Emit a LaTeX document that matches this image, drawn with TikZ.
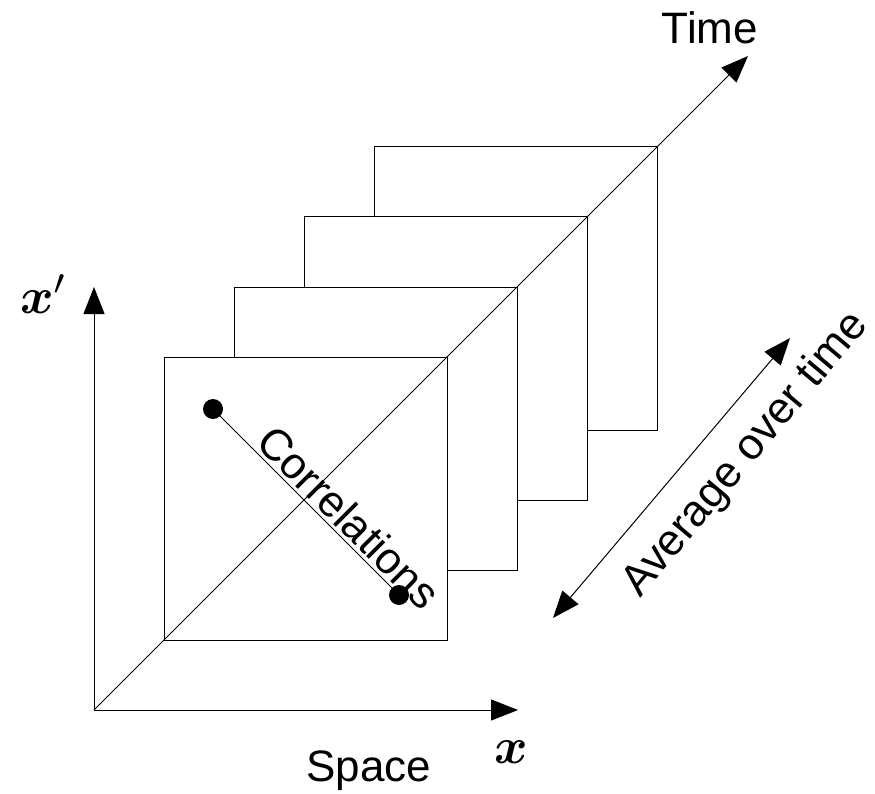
\documentclass[tikz,border=0pt]{standalone}
\usepackage{fontspec}
\usepackage{amsmath,bm}
\setmainfont{Liberation Sans}
\usetikzlibrary{arrows.meta,calc}
\begin{document}
\begin{tikzpicture}[x=1pt,y=-1pt,
  every node/.style={inner sep=0pt},
  ln/.style={line width=1pt,black},
  arr/.style={ln,-{Triangle[length=27pt,width=21pt]}},
  darr/.style={ln,{Triangle[length=27pt,width=21pt]}-{Triangle[length=27pt,width=21pt]}},
  frame/.style={ln,fill=white},
  lbl/.style={font=\fontsize{44}{50}\selectfont},
  mlbl/.style={scale=5.1},
  dot/.style={circle,fill=black,minimum size=20pt,inner sep=0pt}]
\useasboundingbox (0,0) rectangle (875,794);
% origin and axes ends
\coordinate (O) at (94,710);
\coordinate (X) at (518,710);
\coordinate (Y) at (94,287);
\coordinate (T) at (748,56);
% frames, back to front
\foreach \k in {4,3,2,1}{
  \draw[frame] ($(O)+(70*\k,-70*\k)$) rectangle ++(283,-283);
}
\draw[arr] (O) -- (X);
\draw[arr] (O) -- (Y);
\draw[arr] (O) -- (T);
% correlations
\node[dot] (d1) at (213,409) {};
\node[dot] (d2) at (399,595) {};
\draw[ln] (d1.center) -- (d2.center);
\node[lbl,rotate=-45] (corr) at (349,517) {Correlations};
% average arrow
\coordinate (A1) at (553,618);
\coordinate (A2) at (790,338);
\draw[darr] (A1) -- (A2);
\node[lbl,rotate=50] (avg) at (746,455) {Average over time};
% labels
\node[lbl] (time) at (710,28) {Time};
\node[lbl] (space) at (369,771) {Space};
\node[mlbl] (xl) at (511,752) {$\bm{x}$};
\node[mlbl] (xpl) at (44,294) {$\bm{x}'$};
\end{tikzpicture}
\end{document}
